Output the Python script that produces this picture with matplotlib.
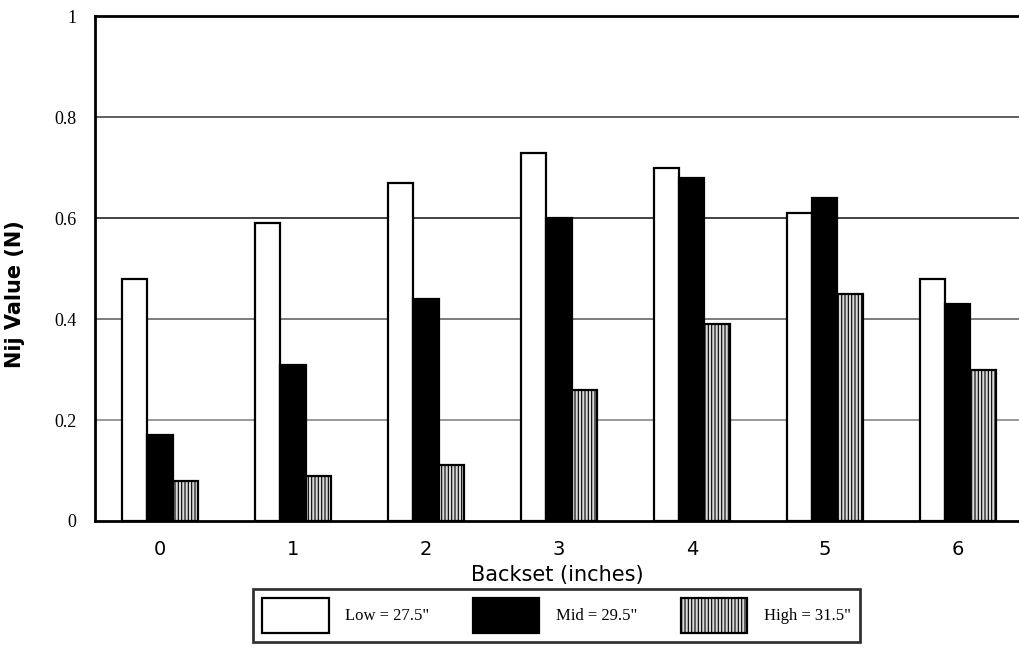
import numpy as np
import matplotlib.pyplot as plt

# Nij values by backset distance for three occupant seating heights
backset = [0, 1, 2, 3, 4, 5, 6]
low = [0.48, 0.59, 0.67, 0.73, 0.70, 0.61, 0.48]
mid = [0.17, 0.31, 0.44, 0.60, 0.68, 0.64, 0.43]
high = [0.08, 0.09, 0.11, 0.26, 0.39, 0.45, 0.30]
series_labels = ['Low = 27.5"', 'Mid = 29.5"', 'High = 31.5"']
yticks = [0, 0.2, 0.4, 0.6, 0.8, 1.0]
ytick_labels = ["0", "0.2", "0.4", "0.6", "0.8", "1"]

plt.rcParams['hatch.linewidth'] = 0.8
plt.rcParams['hatch.color'] = '#555555'

fig = plt.figure(figsize=(10.19, 6.52), dpi=100)
ax = fig.add_axes([0.093, 0.201, 0.907, 0.774])

x = np.arange(len(backset))
w = 0.19
b_low = ax.bar(x - w, low, w, color='white', edgecolor='black', linewidth=1.6, zorder=3)
b_mid = ax.bar(x, mid, w, color='black', edgecolor='black', linewidth=1.6, zorder=3)
b_high = ax.bar(x + w, high, w, color='#d9d9d9', edgecolor='black', linewidth=1.6,
                hatch='|||||', zorder=3)

ax.set_xlim(-0.49, 6.46)
ax.set_ylim(0, 1.0)
ax.set_yticks(yticks)
ax.set_yticklabels(ytick_labels, family='Liberation Serif', fontsize=13)
ax.set_xticks(x)
ax.set_xticklabels([str(b) for b in backset], fontsize=14, family='DejaVu Sans')
ax.tick_params(axis='both', length=0)
ax.tick_params(axis='y', pad=13)
ax.tick_params(axis='x', pad=14)

for g, c in [(0.2, '#888888'), (0.4, '#666666'), (0.6, '#222222'), (0.8, '#444444')]:
    ax.axhline(g, color=c, linewidth=1.2, zorder=1)

for side in ['top', 'left', 'bottom']:
    ax.spines[side].set_linewidth(2.0)
    ax.spines[side].set_color('black')
ax.spines['right'].set_visible(False)

ax.set_ylabel('Nij Value (N)', fontsize=15, fontweight='bold', family='DejaVu Sans',
              labelpad=-8)
ax.yaxis.set_label_coords(-0.075, 0.45)
ax.set_xlabel('Backset (inches)', fontsize=15, family='DejaVu Sans', labelpad=4)

leg = fig.legend([b_low, b_mid, b_high], series_labels, loc='lower center',
                 bbox_to_anchor=(0.546, 0.002), ncol=3, frameon=True, fancybox=False,
                 edgecolor='black', handlelength=4.0, handleheight=2.9,
                 columnspacing=2.6, borderpad=0.55, handletextpad=1.0,
                 prop={'family': 'Liberation Serif', 'size': 12})
leg.get_frame().set_linewidth(2.0)

fig.savefig('out.png', dpi=100)
